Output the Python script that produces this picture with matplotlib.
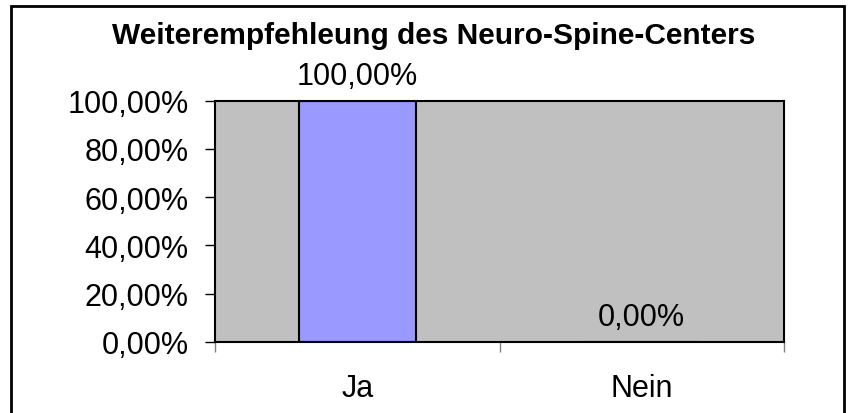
import matplotlib.pyplot as plt
from matplotlib.patches import Rectangle
from matplotlib.ticker import FuncFormatter

plt.rcParams["font.family"] = ["Liberation Sans", "DejaVu Sans"]

categories = ["Ja", "Nein"]
values = [100.0, 0.0]
y_ticks = [0, 20, 40, 60, 80, 100]
title = "Weiterempfehleung des Neuro-Spine-Centers"


def pct_de(v, _pos=None):
    return f"{v:.2f}".replace(".", ",") + "%"


fig = plt.figure(figsize=(8.5, 4.14), dpi=100)
fig.patch.set_facecolor("white")

# outer frame around the whole chart
fig.patches.append(Rectangle((11 / 850, -0.05), (844 - 11) / 850, 1.05 - 7 / 414,
                             transform=fig.transFigure, fill=False,
                             edgecolor="black", linewidth=2))

ax = fig.add_axes([215 / 850, 71 / 414, 569 / 850, 241.5 / 414])
ax.set_facecolor("#C0C0C0")

x = range(len(categories))
ax.bar(x, values, width=0.41, color="#9999FF", edgecolor="black", linewidth=1.5)

for i, v in zip(x, values):
    ax.annotate(pct_de(v), (i, v), xytext=(0, 7), textcoords="offset points",
                ha="center", va="bottom", fontsize=22)

ax.set_xlim(-0.5, len(categories) - 0.5)
ax.set_ylim(0, 100)
ax.set_yticks(y_ticks)
ax.yaxis.set_major_formatter(FuncFormatter(pct_de))
ax.tick_params(axis="y", direction="out", length=7, width=1, labelsize=22, pad=12)

# category labels centred, ticks on the category boundaries
ax.set_xticks([-0.5, 0.5, 1.5])
ax.set_xticklabels([])
ax.set_xticks(list(x), minor=True)
ax.set_xticklabels(categories, minor=True, fontsize=22)
ax.tick_params(axis="x", which="major", direction="out", length=7, width=1, color="gray")
ax.tick_params(axis="x", which="minor", length=0, pad=22)

for side in ["left", "bottom", "top", "right"]:
    ax.spines[side].set_linewidth(1.5)
    ax.spines[side].set_color("black")

fig.text(434 / 850, 1 - 36 / 414, title, ha="center", va="center",
         fontsize=21.5, fontweight="bold")

fig.savefig("out.png", dpi=100)
